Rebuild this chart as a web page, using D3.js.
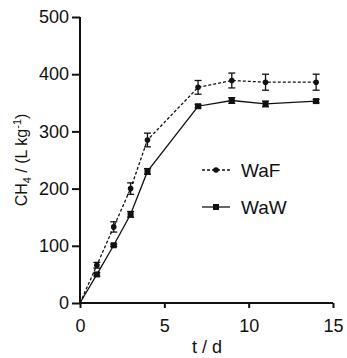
<!DOCTYPE html>
<head>
<meta charset="utf-8">
<style>
  body { margin: 0; background: #fff; }
  text { font-family: "Liberation Sans", Arial, sans-serif; fill: #111; }
</style>
</head>
<body>
<svg width="347" height="358"></svg>
<script src="https://cdnjs.cloudflare.com/ajax/libs/d3/7.8.5/d3.min.js"></script>
<script>
// days
var days = [0, 1, 2, 3, 4, 7, 9, 11, 14];
// WaF (dashed, circles)
var waf = [0, 66, 133, 200, 285, 377, 389, 386, 386];
var wafErr = [0, 5, 9, 10, 12, 12, 13, 14, 14];
// WaW (solid, squares)
var waw = [0, 50, 101, 155, 230, 344, 354, 348, 353];
var wawErr = [0, 3, 2, 5, 5, 3, 5, 5, 3];

var xTicks = [0, 5, 10, 15];
var yTicks = [0, 100, 200, 300, 400, 500];

var svg = d3.select("svg");
var x = d3.scaleLinear().domain([0, 15]).range([80, 333]);
var y = d3.scaleLinear().domain([0, 500]).range([303, 17]);

var xAxis = svg.append("g").attr("transform", "translate(0,303)")
  .call(d3.axisBottom(x).tickValues(xTicks).tickSize(5).tickPadding(11).tickSizeOuter(0));
var yAxis = svg.append("g").attr("transform", "translate(80,0)")
  .call(d3.axisLeft(y).tickValues(yTicks).tickSize(8).tickPadding(3).tickSizeOuter(0));

[xAxis, yAxis].forEach(function(a) {
  a.select(".domain").attr("stroke", "#111").attr("stroke-width", 2);
  a.selectAll(".tick line").attr("stroke", "#111").attr("stroke-width", 2);
  a.selectAll(".tick text").style("font-size", "18px").style("font-family", "Liberation Sans, Arial, sans-serif").attr("fill", "#111");
});
// extend x domain so it joins y axis
xAxis.select(".domain").attr("d", "M79,0H" + x(15));
yAxis.select(".domain").attr("d", "M0," + (y(0) + 1) + "V" + y(500));

svg.append("text").attr("x", 207).attr("y", 353).attr("text-anchor", "middle")
  .style("font-size", "18px").text("t / d");

var yt = svg.append("text").attr("transform", "translate(27,160) rotate(-90)")
  .attr("text-anchor", "middle").style("font-size", "16px");
yt.append("tspan").text("CH");
yt.append("tspan").attr("dy", 4).style("font-size", "11px").text("4");
yt.append("tspan").attr("dy", -4).text(" / (L kg");
yt.append("tspan").attr("dy", -6).style("font-size", "11px").text("-1");
yt.append("tspan").attr("dy", 6).text(")");

function drawSeries(vals, errs, dash, shape) {
  var line = d3.line().x(function(d, i) { return x(days[i]); }).y(function(d) { return y(d); });
  svg.append("path").datum(vals).attr("d", line).attr("fill", "none")
    .attr("stroke", "#111").attr("stroke-width", 1.3).attr("stroke-dasharray", dash);
  var g = svg.append("g");
  vals.forEach(function(v, i) {
    if (i === 0) return;
    var cx = x(days[i]);
    var e = errs[i];
    if (e > 0) {
      g.append("line").attr("x1", cx).attr("x2", cx).attr("y1", y(v + e)).attr("y2", y(v - e)).attr("stroke", "#111").attr("stroke-width", 1.3);
      [v + e, v - e].forEach(function(w) {
        g.append("line").attr("x1", cx - 3.5).attr("x2", cx + 3.5).attr("y1", y(w)).attr("y2", y(w)).attr("stroke", "#111").attr("stroke-width", 1.3);
      });
    }
    if (shape === "circle") {
      g.append("circle").attr("cx", cx).attr("cy", y(v)).attr("r", 2.8).attr("fill", "#111");
    } else {
      g.append("rect").attr("x", cx - 3).attr("y", y(v) - 3).attr("width", 6).attr("height", 6).attr("fill", "#111");
    }
  });
}
drawSeries(waf, wafErr, "3,2", "circle");
drawSeries(waw, wawErr, null, "square");

// legend
var legend = [
  {name: "WaF", dash: "3,2", shape: "circle", y: 170},
  {name: "WaW", dash: null, shape: "square", y: 207}
];
legend.forEach(function(l) {
  svg.append("line").attr("x1", 202).attr("x2", 230).attr("y1", l.y).attr("y2", l.y)
    .attr("stroke", "#111").attr("stroke-width", 1.3).attr("stroke-dasharray", l.dash);
  if (l.shape === "circle") svg.append("circle").attr("cx", 216).attr("cy", l.y).attr("r", 2.8).attr("fill", "#111");
  else svg.append("rect").attr("x", 213).attr("y", l.y - 3).attr("width", 6).attr("height", 6).attr("fill", "#111");
  svg.append("text").attr("x", 241).attr("y", l.y + 7).style("font-size", "19px").text(l.name);
});
</script>
</body>
